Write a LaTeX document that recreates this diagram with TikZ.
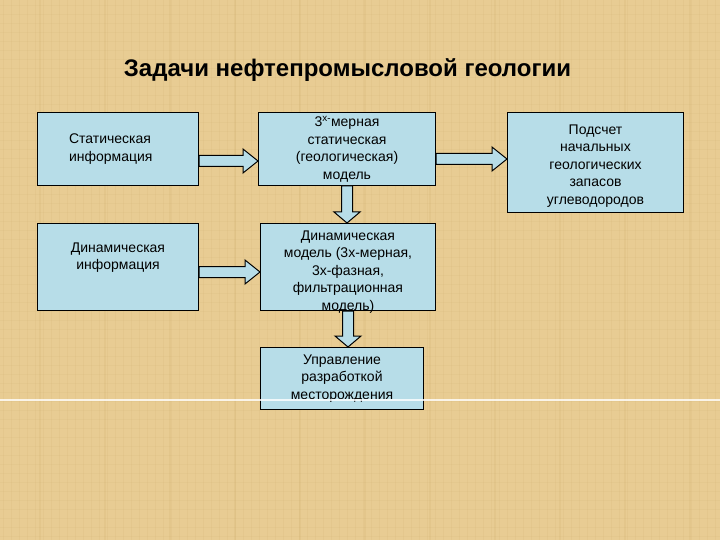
\documentclass[tikz,border=0pt]{standalone}
\usepackage{fontspec}
\setmainfont{Liberation Sans}
\usetikzlibrary{calc}
\definecolor{parchment}{HTML}{E8CC93}
\definecolor{parchmentdark}{HTML}{CFAE6E}
\definecolor{boxblue}{HTML}{B7DDE8}
\tikzset{
  box/.style={draw=black, fill=boxblue, line width=1pt, inner sep=2pt, align=center,
    font=\fontsize{14}{17.5}\selectfont, anchor=north west},
  blockarrow/.style={draw=black, fill=boxblue, line width=1pt, line join=miter},
}
% horizontal block arrow: from node, to node, vertical offset
\newcommand{\harrow}[3]{%
  \draw[blockarrow] let \p1=($(#1.east)+(0,#3)$), \p2=($(#2.west)+(0,#3)$) in
    (\x1,\y1+5.5pt) -- (\x2-15pt,\y1+5.5pt) -- (\x2-15pt,\y1+12pt) -- (\x2,\y1)
    -- (\x2-15pt,\y1-12pt) -- (\x2-15pt,\y1-5.5pt) -- (\x1,\y1-5.5pt) -- cycle;}
% vertical block arrow: from node down to node
\newcommand{\varrow}[2]{%
  \draw[blockarrow] let \p1=(#1.south), \p2=(#1.south |- #2.north) in
    (\x1-5.5pt,\y1) -- (\x1-5.5pt,\y2+11pt) -- (\x1-13pt,\y2+11pt) -- (\x1,\y2)
    -- (\x1+13pt,\y2+11pt) -- (\x1+5.5pt,\y2+11pt) -- (\x1+5.5pt,\y1) -- cycle;}

\begin{document}
\begin{tikzpicture}[x=1pt,y=-1pt]
  % background
  \fill[parchment] (0,0) rectangle (720,540);
  \useasboundingbox (0,0) rectangle (720,540);
  \foreach \x in {3,11,...,720} { \draw[parchmentdark, opacity=0.15, line width=0.7pt] (\x,0) -- (\x,540); }
  \foreach \y in {5,14,...,540} { \draw[parchmentdark, opacity=0.12, line width=0.7pt] (0,\y) -- (720,\y); }
  \foreach \x in {40,105,...,720} { \draw[parchmentdark, opacity=0.2, line width=1.5pt] (\x,0) -- (\x,540); }

  \node[font=\bfseries\fontsize{24}{28}\selectfont] (title) at (347.5,70) {Задачи нефтепромысловой геологии};

  \node[box, minimum width=161pt, minimum height=73pt, text width=98pt, align=left] (statinfo) at (37,112) {Статическая\\информация};
  \node[box, minimum width=177pt, minimum height=73pt] (statmodel) at (258,112) {3\textsuperscript{х-}мерная\\статическая\\(геологическая)\\модель};
  \node[box, minimum width=176pt, minimum height=100pt, text height=86pt] (reserves) at (507,112) {Подсчет\\начальных\\геологических\\запасов\\углеводородов};
  \node[box, minimum width=161pt, minimum height=87pt, text depth=22pt] (dyninfo) at (37,223) {Динамическая\\информация};
  \node[box, minimum width=175pt, minimum height=87pt, inner ysep=-6pt, text height=89pt] (dynmodel) at (260,223) {Динамическая\\модель (3х-мерная,\\3х-фазная,\\фильтрационная\\модель)};
  \node[box, minimum width=163pt, minimum height=62pt] (control) at (260,347) {Управление\\разработкой\\месторождения};

  \harrow{statinfo}{statmodel}{12}
  \harrow{statmodel}{reserves}{10}
  \harrow{dyninfo}{dynmodel}{5}
  \varrow{statmodel}{dynmodel}
  \varrow{dynmodel}{control}

  \draw[white, opacity=0.8, line width=1.2pt] (0,400) -- (720,400);
\end{tikzpicture}
\end{document}
